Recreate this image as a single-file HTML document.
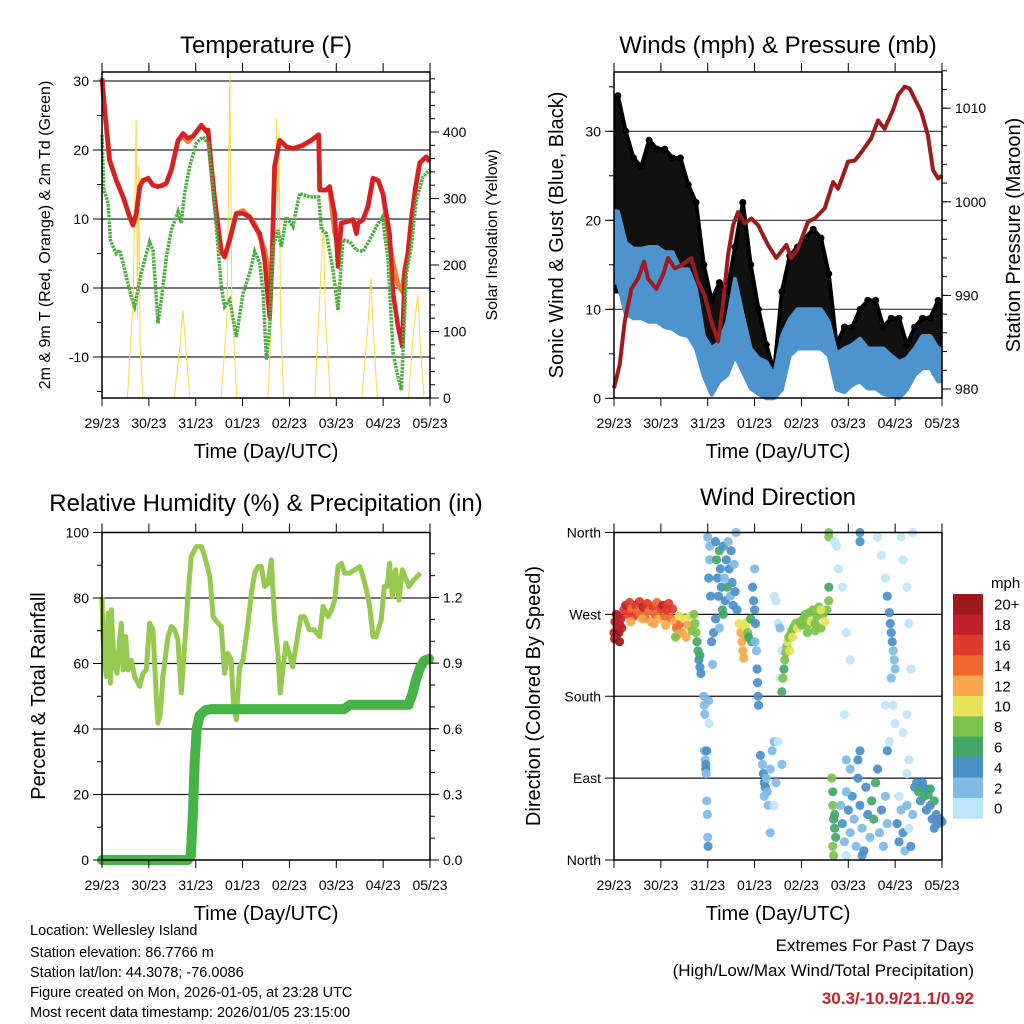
<!DOCTYPE html>
<html><head><meta charset="utf-8"><style>
html,body{margin:0;padding:0;background:#fff;}
svg{display:block;font-family:"Liberation Sans",Arial,sans-serif;}
</style></head><body>
<svg id="chart" width="1024" height="1024" viewBox="0 0 1024 1024" xmlns="http://www.w3.org/2000/svg">
<rect width="1024" height="1024" fill="#fff"/>
<g id="g-temp"></g>
<g id="g-wind"></g>
<g id="g-rh"></g>
<g id="g-dir"></g>
<g id="g-text">
<text x="30" y="935" font-size="14.5">Location: Wellesley Island</text>
<text x="30" y="957" font-size="14.5">Station elevation: 86.7766 m</text>
<text x="30" y="977" font-size="14.5">Station lat/lon: 44.3078; -76.0086</text>
<text x="30" y="997" font-size="14.5">Figure created on Mon, 2026-01-05, at 23:28 UTC</text>
<text x="30" y="1017" font-size="14.5">Most recent data timestamp: 2026/01/05 23:15:00</text>
<text x="974" y="951" font-size="17" text-anchor="end">Extremes For Past 7 Days</text>
<text x="974" y="976" font-size="17" text-anchor="end">(High/Low/Max Wind/Total Precipitation)</text>
<text x="974" y="1004" font-size="17" font-weight="bold" fill="#c8202a" text-anchor="end">30.3/-10.9/21.1/0.92</text>
</g>
</svg>
<script>
// ---------- DATA ----------
const dayLabels = ["29/23","30/23","31/23","01/23","02/23","03/23","04/23","05/23"];
const tempHours = [0,1.4,3.9,7.3,10.8,14.2,15.9,17.6,19.3,21,23.6,26.1,28.7,31.2,33,35.5,39,41.5,44,46.6,50.9,53.4,54.3,56,57.7,59.4,61.1,62.8,65.4,68.8,72.2,75.6,78.2,80.8,83.3,85,85.9,87.2,88.4,91,94.4,97.8,103,107.2,111,111.5,114.9,116.6,119.2,120.9,122.6,125.1,128.6,130.3,131.1,133.7,136.2,138.8,141.4,143.9,147.3,149.1,151.6,153.8,155,156.7,158.4,160.7,162.7,164.4,166.1,167.8];
const temp2m = [30.4,25.8,18.5,15.6,13.2,10.3,9.1,10.8,14.7,15.6,15.9,14.9,14.7,14.9,15.2,17.1,21.4,22.4,21.7,22.0,23.6,22.7,22.9,17.6,12.8,8.9,5.3,4.5,7.0,10.8,10.8,10.3,8.9,7.9,4.1,-1.7,-4.2,4.1,17.6,21.4,20.5,20.2,20.7,21.4,22.2,14.2,14.2,14.7,10.8,3.1,9.4,9.6,9.9,7.9,9.4,9.9,11.8,15.9,15.6,13.7,7.9,-0.8,-5.6,-8.5,2.1,5.0,9.9,14.7,18.1,18.6,19.0,18.3];
const temp9m = [30.4,25.8,18.5,15.6,13.2,10.3,9.1,10.8,14.7,15.6,15.9,14.9,14.7,14.9,15.2,17.1,21.4,22.0,21.2,22.0,23.6,22.7,22.9,17.6,12.8,8.9,5.3,4.5,7.0,10.8,11.2,10.3,9.3,7.5,5.5,2.5,1.0,4.5,17.6,21.4,20.5,20.2,20.7,21.4,22.2,14.2,14.2,14.7,8.0,6.5,9.4,9.6,9.9,7.9,9.4,9.9,11.8,15.9,15.6,13.7,6.5,3.5,0.5,-0.5,2.5,5.0,9.9,14.7,18.1,18.6,19.0,18.3];
const dewHours = [0,0.9,2.2,3.1,4.3,5.6,7.3,9,10.8,12.5,15,16.7,18.4,20.1,21.9,24.4,26.1,28.7,30.4,33,35.5,39,40.6,42.3,44.9,48.3,51.7,54.3,56,57.7,59.4,61.1,62.8,65.4,68.8,72.2,75.6,78.2,80.8,82.5,84.2,85.9,87.6,90.1,91.9,94.4,97.8,101.2,106.4,111,112.4,114.9,118.3,120.9,123.4,126.9,130.3,133.7,137.1,140.5,143.6,146.5,149.1,151.6,153.3,155.9,158.4,161,164.4,167.8];
const dewPoint = [22.2,14.2,13.2,12.3,7.0,6.0,5.0,5.5,3.6,1.6,-1.3,-2.7,-0.3,2.1,4.1,6.7,5.5,-5.1,-1.7,4.5,8.4,11.1,9.4,13.7,17.6,21.0,21.9,21.0,17.1,11.3,6.0,0.2,-2.7,-1.7,-7.1,-0.8,2.1,5.3,3.6,-0.8,-10.4,-5.6,6.0,8.4,6.0,10.3,8.9,13.7,13.2,13.2,8.4,7.9,2.6,-3.2,7.0,6.7,5.5,5.3,7.0,8.9,10.3,4.1,-9.5,-12.9,-14.8,2.1,6.0,12.8,16.1,17.1];
const solarHours = [0,13,16,17.5,18.2,18.8,19.5,21,37,40,41.5,42.5,45,61,64,65.5,66.5,69,85,88,89.4,90,90.6,91.5,93,109,111.5,113.4,114.5,117,133,136,137.8,139,141,157,159.5,161.8,163,165,168];
const solarVals = [0,0,150,418,120,350,80,0,0,80,132,90,0,0,120,490,150,0,0,200,420,250,400,120,0,0,150,263,120,0,0,100,180,100,0,0,100,155,80,0,0];
const windStepHours = [2,6,10,14,18,22,26,30,34,38,42,46,50,54,58,62,66,70,74,78,82,86,90,94,98,102,106,110,114,118,122,126,130,134,138,142,146,150,154,158,162,166];
const speedLo = [13,9.5,9,9,8.6,8.6,8,7.8,7.2,7,5.6,2.5,0.4,1.9,2.6,4.8,3,1.1,0.5,0,0,1,4.8,5.6,5.6,5.6,5.6,4.8,1,0.7,1.5,1.9,1.1,1.1,0.5,0.3,0,1,2.6,3.4,3.4,1.9];
const speedHi = [21,17.5,16.8,16.8,17,17,16.4,16.4,14.5,14.5,12.3,7,5.6,6.3,8.6,13.4,9.3,5.6,4.5,4.1,2.6,7,8.9,10,10,10,10,8.6,5,5.6,6,6.7,5.6,5.6,5.6,4.8,4.1,4.5,5.6,7,7,5.6];
const gustLo = [12,12,12,12,14,14,13,13,12,11,9,6,4,4,4,6,10,6,4,2,1,4,8,8,8,8,8,7,3,3,3,4,4,4,3,3,3,2,5,6,6,5];
const gustHi = [34,30,27,26,29,28,28,27,27,24,22,15,11,13,12,17,22,15,10,6,3,12,16,17,18,19,18,14,6,8,8,10,11,11,8,9,9,6,8,9,9,11];
const presHours = [0,2.9,5.5,8.9,12.3,15.4,17.4,21.7,25.1,27.7,31.1,34.5,39.6,43,46.4,49.9,53.3,55.8,58.4,61,63.5,66.9,70.3,73.8,78.9,83.1,88.3,90.8,94.2,99.4,102.8,107.9,112.2,114.8,119.9,123.3,126.7,131.8,135.2,138.6,142.9,145.5,148.9,151.4,154,157.4,160.8,163.4,166,168];
const presVals = [980.1,982.6,987.2,990.7,991.8,993.6,991.8,990.7,992.2,994.0,992.9,993.2,994.0,991.5,990.0,987.2,985.1,989.0,994.3,997.5,998.9,997.7,998.2,997.5,995.4,994.0,995.4,994.0,995.0,997.9,998.2,999.3,1002.1,1001.4,1004.3,1004.4,1005.3,1006.8,1008.7,1007.8,1009.8,1011.4,1012.3,1012.1,1011.0,1009.6,1007.1,1003.4,1002.5,1002.8];
const rhHours = [0,0.5,1.4,2.2,3.1,4.3,4.8,5.6,6.5,7.7,9,9.9,10.8,12.1,13.3,15,16.7,19.3,21,22.7,24.4,26.1,27.8,28.7,29.9,31.2,33.8,35.5,37.2,38.9,40.6,42.3,44,45.7,48.3,50.9,52.6,55.2,56.9,59.4,61.1,62.8,64.5,66.2,67.4,68.8,70.5,72.2,74.8,76.5,78.2,79.9,81.6,83.3,85,86.7,88.4,90.1,91.3,92.6,94.2,95.9,97.7,99.3,101.9,103.7,106.2,108.6,111.5,113.2,115.8,117.6,119.2,120.9,122.6,124.3,126.9,129.4,132,133.7,135.4,137.1,138.8,140.4,143,144.6,146,147.3,148.7,150.4,152.1,153.8,157.2,159.7,163.1];
const rhVals = [80.4,68.2,60.1,56,75.4,54,76.4,66.2,59,57,67.2,72.3,58,68.2,58,61,56,53,57,58,72.3,70.3,49.9,41.8,44.8,56,68.2,71.3,70.3,67.2,51,65.2,80.4,92.7,95.7,95.7,92.7,86.6,74.3,72.3,71.3,57,63.1,61,46.8,42.8,59,61,72.3,81.5,87.6,89.6,89.6,83.5,84.5,91.6,73.3,63.1,51,58,66.2,63.1,59,65.2,74.3,74.3,70.3,70.3,68.2,77.4,74.3,76.4,79.4,89.6,90.6,87.6,87.6,88.6,89.6,86.6,82.5,77.4,68.2,68.2,73.3,83.5,83.5,90.6,80.4,88.6,79.4,88.6,83.5,85.5,87.6];
const precipHours = [0,44,45.5,46.5,47.5,48.5,50,53,56,124,127,157,159,161,163,165,167.5];
const precipVals = [0,0,0.02,0.2,0.45,0.6,0.66,0.685,0.69,0.69,0.71,0.71,0.76,0.83,0.88,0.91,0.92];
const dirObs = [
[0,250,18],[0.5,262,19],[1,245,20],[1.5,255,18],[2,268,18],[2.5,250,20],[3,258,19],[3.5,265,18],[4,255,18],[0.3,243,19],[1.2,270,18],[2.8,240,20],
[5,275,16],[6,280,18],[7,270,16],[8,283,16],[9,276,14],[10,268,16],[11,280,16],[12,273,14],[13,284,16],[14,270,14],[15,278,18],[16,266,14],[17,282,16],[18,274,14],[19,262,12],[20,279,16],[21,270,14],[22,283,14],[23,265,12],[24,276,16],[25,280,18],[26,268,14],[27,275,16],[28,282,16],[29,266,14],[30,276,16],[8.5,262,12],[14.5,265,12],[20.5,260,12],[26.5,258,12],
[31,262,12],[32,255,14],[33,248,12],[34,260,14],[35,250,12],[36,265,10],[37,245,12],[38,258,12],[39,268,10],[40,252,8],[41,270,8],[41.5,260,8],[31.5,245,8],[33.5,268,10],
[42,250,8],[42.5,240,6],[43,230,6],[43.5,220,4],[44,212,4],[44.5,205,4],[44,225,6],
[46,180,2],[46.2,170,2],[46.5,160,2],[46.3,120,2],[46.7,110,2],[47,100,4],[47.2,95,2],[47,105,4],[47.5,65,2],[47.8,50,2],[48,25,2],[48.2,15,4],[48.5,175,2],[48.7,150,0],[47.5,120,4],
[48,355,2],[48.5,310,4],[49,330,2],[49.5,290,4],[50,240,4],[50.5,215,2],[51,250,4],[49,345,2],
[52,350,4],[52.5,330,6],[53,310,4],[53.5,290,4],[54,340,6],[54.5,320,4],[55,300,4],[55.5,275,6],[56,345,4],[56.5,310,2],[57,285,4],[57.5,330,4],[58,300,6],[58.5,350,2],[59,320,4],[59.5,290,2],[60,340,4],[60.5,305,4],[61,280,4],[61.5,325,2],[62,295,4],[62.5,360,2],[63,275,4],[52,265,4],[54,255,2],[56,270,6],
[64,260,10],[65,250,12],[65.5,240,12],[66,230,12],[66.5,222,12],[67,255,10],[67.5,245,12],[68,262,10],[68.5,250,8],[69,245,6],[70,265,6],[70.5,240,6],
[71,300,4],[71.5,285,4],[72,275,4],[72.5,260,4],[72.2,240,2],[73,230,2],[73.3,210,4],[73.5,195,4],[73.8,180,4],[74,170,4],[72,320,2],
[75,115,4],[76,105,2],[76.5,95,4],[77,85,4],[77.5,80,4],[78,90,2],[78.5,75,2],[77,70,2],[80,100,2],[81,120,2],[82,130,2],[79,60,2],[80,30,2],[83,85,2],[82,60,0],
[82,290,0],[83,285,0],[84,260,0],[85,255,2],[86,230,0],[85,200,0],[84,130,0],[86,105,2],
[86,185,6],[86.5,200,8],[87,210,6],[87.5,220,8],[88,228,8],[88.5,235,8],[89,240,10],[89.5,245,8],[90,230,10],[90.5,248,8],[91,252,8],[91.5,245,10],[92,256,8],[93,260,8],[94,255,10],[95,262,8],[96,258,8],
[97,265,8],[98,270,8],[99,258,8],[100,272,8],[101,262,10],[102,275,8],[103,260,8],[104,268,8],[105,278,8],[106,255,8],[107,270,8],[108,262,10],[109,275,8],[110,285,8],[110,300,6],[110,355,8],[110,360,8],[99,250,8],[103,252,8],[106,275,10],
[111.5,90,8],[112,75,6],[112,60,8],[112.5,45,6],[113,35,6],[113.5,25,6],[112,15,8],[112.5,5,8],[113,50,6],
[116,60,2],[117,40,4],[118,20,2],[119,5,0],[120,55,4],[121,30,2],[122,70,4],[123,45,2],[124,15,2],[125,90,4],[126,60,4],[127,35,2],[128,10,4],[129,80,4],[130,50,4],[131,25,2],[132,65,6],[133,45,6],[134,85,6],[135,100,4],[136,30,2],[137,55,4],[138,15,2],[139,70,2],[140,40,2],[125,110,4],[126,120,4],[127,5,4],[119,75,2],[121,100,2],
[113,350,0],[114,345,0],[115,320,0],[117,300,0],[119,250,0],[121,220,0],[118,160,0],[119,110,2],[126,360,4],[126,350,4],[135,355,0],[137,335,0],[139,310,0],[140,290,4],[140,120,4],[141,130,0],[147,355,0],[148,330,0],[150,300,0],[151,260,0],[152,210,0],[150,160,0],[148,140,0],[151,110,0],[139,170,0],[153,360,0],
[141,272,4],[141.5,260,4],[142,250,4],[142.5,240,4],[143,230,2],[143.5,220,2],[144,210,2],[142,200,2],[143,170,0],[144,150,0],
[145,40,4],[146,20,4],[147,55,2],[148,30,4],[149,10,2],[150,60,2],[151,35,0],[152,15,4],[153,50,2],[154,80,4],[155,85,4],[156,75,6],[157,65,4],[158,80,6],[159,70,6],[160,55,4],[161,72,6],[162,60,4],[163,45,4],[164,35,4],[165,50,4],[166,40,4],[167,45,4],[168,42,4],[158,85,4],[160,78,4],[162,78,6],[164,65,6],[146,70,0],[150,95,0]
];
const speedBins = ["20+","18","16","14","12","10","8","6","4","2","0"];
const speedColors = ["#9b1a1e","#c0202a","#e03a2c","#f0672c","#f8a84a","#e6e25a","#7cc24c","#42a86a","#4a8fc8","#80bae5","#bfe5f8"];

// ---------- HELPERS ----------
const NS="http://www.w3.org/2000/svg";
function mk(parent,tag,attrs,txt){const e=document.createElementNS(NS,tag);for(const k in attrs)e.setAttribute(k,attrs[k]);if(txt!==undefined)e.textContent=txt;parent.appendChild(e);return e;}
const HOURS=168;
function xAxis(x0,x1){return h=>x0+h*(x1-x0)/HOURS;}
function linY(v0,y0,v1,y1){return v=>y0+(v-v0)*(y1-y0)/(v1-v0);}
function pathFrom(xs,ys,fx,fy){return xs.map((h,i)=>(i?"L":"M")+fx(h).toFixed(1)+","+fy(ys[i]).toFixed(1)).join("");}

function frame(g,x0,x1,y0,y1,name){
  const r=mk(g,"rect",{x:x0,y:y0,width:x1-x0,height:y1-y0,fill:"none",stroke:"#000","stroke-width":1.5});
  
  
  const fx=xAxis(x0,x1);
  for(let d=0;d<=7;d++){
    const x=fx(d*24);
    const t1=mk(g,"line",{x1:x,x2:x,y1:y1,y2:y1+8,stroke:"#000","stroke-width":1});
    
    
    mk(g,"line",{x1:x,x2:x,y1:y0-9,y2:y0,stroke:"#000","stroke-width":1});
    const lb=mk(g,"text",{x:x,y:y1+30,"font-size":14,"text-anchor":"middle"},dayLabels[d]);
    
    
  }
  const tt=mk(g,"text",{x:(x0+x1)/2,y:y1+60,"font-size":20,"text-anchor":"middle"},"Time (Day/UTC)");
  
  
}
function yTicks(g,side,xEdge,fy,majors,minors,labels){
  const dir=side==="left"?-1:1;
  minors.forEach(v=>{mk(g,"line",{x1:xEdge,x2:xEdge+dir*5,y1:fy(v),y2:fy(v),stroke:"#000","stroke-width":1});});
  majors.forEach((v,i)=>{
    mk(g,"line",{x1:xEdge,x2:xEdge+dir*9,y1:fy(v),y2:fy(v),stroke:"#000","stroke-width":1});
    const t=mk(g,"text",{x:xEdge+dir*13,y:fy(v)+5,"font-size":14,"text-anchor":side==="left"?"end":"start"},labels[i]);
    
    
  });
}
function grid(g,x0,x1,ys,color,w){ys.forEach(y=>{const l=mk(g,"line",{x1:x0,x2:x1,y1:y,y2:y,stroke:color,"stroke-width":w});});}
function title(g,x,y,s,name){const t=mk(g,"text",{x:x,y:y,"font-size":24,"text-anchor":"middle"},s);}
function ytitle(g,x,y,s,fs,name){const t=mk(g,"text",{x:0,y:0,"font-size":fs,"text-anchor":"middle",transform:`translate(${x},${y}) rotate(-90)`},s);}
function range(a,b,s){const r=[];for(let v=a;v<=b+1e-9;v+=s)r.push(+v.toFixed(4));return r;}

// ---------- TEMPERATURE ----------
(function(){
  const g=document.getElementById("g-temp");
  const X0=102,X1=430,Y0=72,Y1=398;
  const fx=xAxis(X0,X1), fy=linY(0,288,10,219), fs=linY(0,398,100,331.5);
  title(g,266,53,"Temperature (F)","temperature-title");
  grid(g,X0,X1,[30,20,10,0,-10].map(fy),"#666",1.8);
  const cp=mk(g,"clipPath",{id:"cpT"});mk(cp,"rect",{x:X0,y:Y0,width:X1-X0,height:Y1-Y0});
  const sol=mk(g,"path",{d:pathFrom(solarHours,solarVals,fx,fs),fill:"none",stroke:"#f8d94a","stroke-width":1,"clip-path":"url(#cpT)"});
  
  
  const o=mk(g,"path",{d:pathFrom(tempHours,temp9m,fx,fy),fill:"none",stroke:"#f37f2f","stroke-width":5,"stroke-linejoin":"round"});
  
  
  const r=mk(g,"path",{d:pathFrom(tempHours,temp2m,fx,fy),fill:"none",stroke:"#d42027","stroke-width":4.5,"stroke-linejoin":"round"});
  
  
  const dp=mk(g,"path",{d:pathFrom(dewHours,dewPoint,fx,fy),fill:"none",stroke:"#4cae3f","stroke-width":3.5,"stroke-dasharray":"2.5 1"});
  
  
  frame(g,X0,X1,Y0,Y1,"temperature");
  yTicks(g,"left",X0,fy,[30,20,10,0,-10],range(-15,30,5),["30","20","10","0","-10"]);
  yTicks(g,"right",X1,fs,[0,100,200,300,400],range(0,480,20),["0","100","200","300","400"]);
  ytitle(g,50,235,"2m & 9m T (Red, Orange) & 2m Td (Green)",16,"temperature-y-title");
  ytitle(g,497,235,"Solar Insolation (Yellow)",16,"solar-y-title");
})();

// ---------- WINDS ----------
(function(){
  const g=document.getElementById("g-wind");
  const X0=614,X1=942,Y0=72,Y1=398;
  const fx=xAxis(X0,X1), fy=linY(0,398.3,10,309.3), fp=linY(980,389,990,295.4);
  title(g,778,53,"Winds (mph) & Pressure (mb)","winds-title");
  grid(g,X0,X1,[10,20,30].map(fy),"#333",1.2);
  const cp=mk(g,"clipPath",{id:"cpW"});mk(cp,"rect",{x:X0,y:Y0,width:X1-X0,height:Y1-Y0+4});
  const gh=[0].concat(windStepHours,[168]);
  const gl=[gustLo[0]].concat(gustLo,[gustLo[gustLo.length-1]]);
  const gu=[gustHi[0]].concat(gustHi,[gustHi[gustHi.length-1]]);
  let d="M"+gh.map((h,i)=>fx(h).toFixed(1)+","+fy(gu[i]).toFixed(1)).join("L");
  d+="L"+gh.slice().reverse().map((h,i)=>fx(h).toFixed(1)+","+fy(gl[gl.length-1-i]).toFixed(1)).join("L")+"Z";
  const gp=mk(g,"path",{d:d,fill:"#111",stroke:"#000","stroke-width":4,"stroke-linejoin":"round","clip-path":"url(#cpW)"});
  
  
  windStepHours.forEach((h,i)=>{
    const c=mk(g,"circle",{cx:fx(h),cy:fy(gustHi[i]),r:3.5,fill:"#000"});
    
    
  });
  const sl=[speedLo[0]].concat(speedLo,[speedLo[speedLo.length-1]]);
  const su=[speedHi[0]].concat(speedHi,[speedHi[speedHi.length-1]]);
  let d2="M"+gh.map((h,i)=>fx(h).toFixed(1)+","+fy(su[i]).toFixed(1)).join("L");
  d2+="L"+gh.slice().reverse().map((h,i)=>fx(h).toFixed(1)+","+fy(sl[sl.length-1-i]).toFixed(1)).join("L")+"Z";
  const sp=mk(g,"path",{d:d2,fill:"#4d94cf",stroke:"#4d94cf","stroke-width":4,"stroke-linejoin":"round","clip-path":"url(#cpW)"});
  
  
  const pl=mk(g,"path",{d:pathFrom(presHours,presVals,fx,fp),fill:"none",stroke:"#9b1b1f","stroke-width":4,"stroke-linejoin":"round"});
  
  
  frame(g,X0,X1,Y0,Y1,"winds");
  yTicks(g,"left",X0,fy,[0,10,20,30],range(0,35,5),["0","10","20","30"]);
  yTicks(g,"right",X1,fp,[980,990,1000,1010],range(980,1014,2),["980","990","1000","1010"]);
  ytitle(g,563,235,"Sonic Wind & Gust (Blue, Black)",20,"wind-y-title");
  ytitle(g,1020,235,"Station Pressure (Maroon)",20,"pressure-y-title");
})();

// ---------- RH & PRECIP ----------
(function(){
  const g=document.getElementById("g-rh");
  const X0=102,X1=430,Y0=532.5,Y1=860;
  const fx=xAxis(X0,X1), fy=linY(0,860,100,532.5), fp=linY(0,860,1.2,597.5);
  title(g,266,511,"Relative Humidity (%) & Precipitation (in)","humidity-title");
  grid(g,X0,X1,[20,40,60,80].map(fy),"#222",1.2);
  const rl=mk(g,"path",{d:pathFrom(rhHours,rhVals,fx,fy),fill:"none",stroke:"#95c94f","stroke-width":5,"stroke-linejoin":"round"});
  
  
  const pl=mk(g,"path",{d:pathFrom(precipHours,precipVals,fx,fp),fill:"none",stroke:"#46b348","stroke-width":10,"stroke-linejoin":"round","stroke-linecap":"round"});
  
  
  frame(g,X0,X1,Y0,Y1,"humidity");
  yTicks(g,"left",X0,fy,[0,20,40,60,80,100],range(0,100,10),["0","20","40","60","80","100"]);
  yTicks(g,"right",X1,fp,[0,0.3,0.6,0.9,1.2],range(0,1.4,0.1),["0.0","0.3","0.6","0.9","1.2"]);
  ytitle(g,45,696,"Percent & Total Rainfall",20,"humidity-y-title");
})();

// ---------- WIND DIRECTION ----------
(function(){
  const g=document.getElementById("g-dir");
  const X0=614,X1=942,Y0=532.5,Y1=860;
  const fx=xAxis(X0,X1), fy=linY(0,860,360,532.5);
  title(g,778,505,"Wind Direction","direction-title");
  grid(g,X0,X1,[90,180,270].map(fy),"#111",1.2);
  dirObs.forEach(o=>{
    const idx=10-Math.min(10,Math.floor(o[2]/2));
    const c=mk(g,"circle",{cx:fx(o[0]).toFixed(1),cy:fy(o[1]).toFixed(1),r:4.6,fill:speedColors[idx],"fill-opacity":0.92});
    
    
  });
  frame(g,X0,X1,Y0,Y1,"direction");
  yTicks(g,"left",X0,fy,[0,90,180,270,360],[],["North","East","South","West","North"]);
  ytitle(g,540,696,"Direction (Colored By Speed)",20,"direction-y-title");
  const cb=mk(g,"g",{});
  
  
  const cy0=594,bh=20.4;
  mk(cb,"text",{x:991,y:588,"font-size":15},"mph");
  speedBins.forEach((s,i)=>{
    const r=mk(cb,"rect",{x:953,y:cy0+i*bh,width:30,height:bh+0.3,fill:speedColors[i]});
    
    
    const t=mk(cb,"text",{x:994,y:cy0+i*bh+bh/2+5.5,"font-size":15},s);
    
    
  });
})();
</script>
</body></html>
